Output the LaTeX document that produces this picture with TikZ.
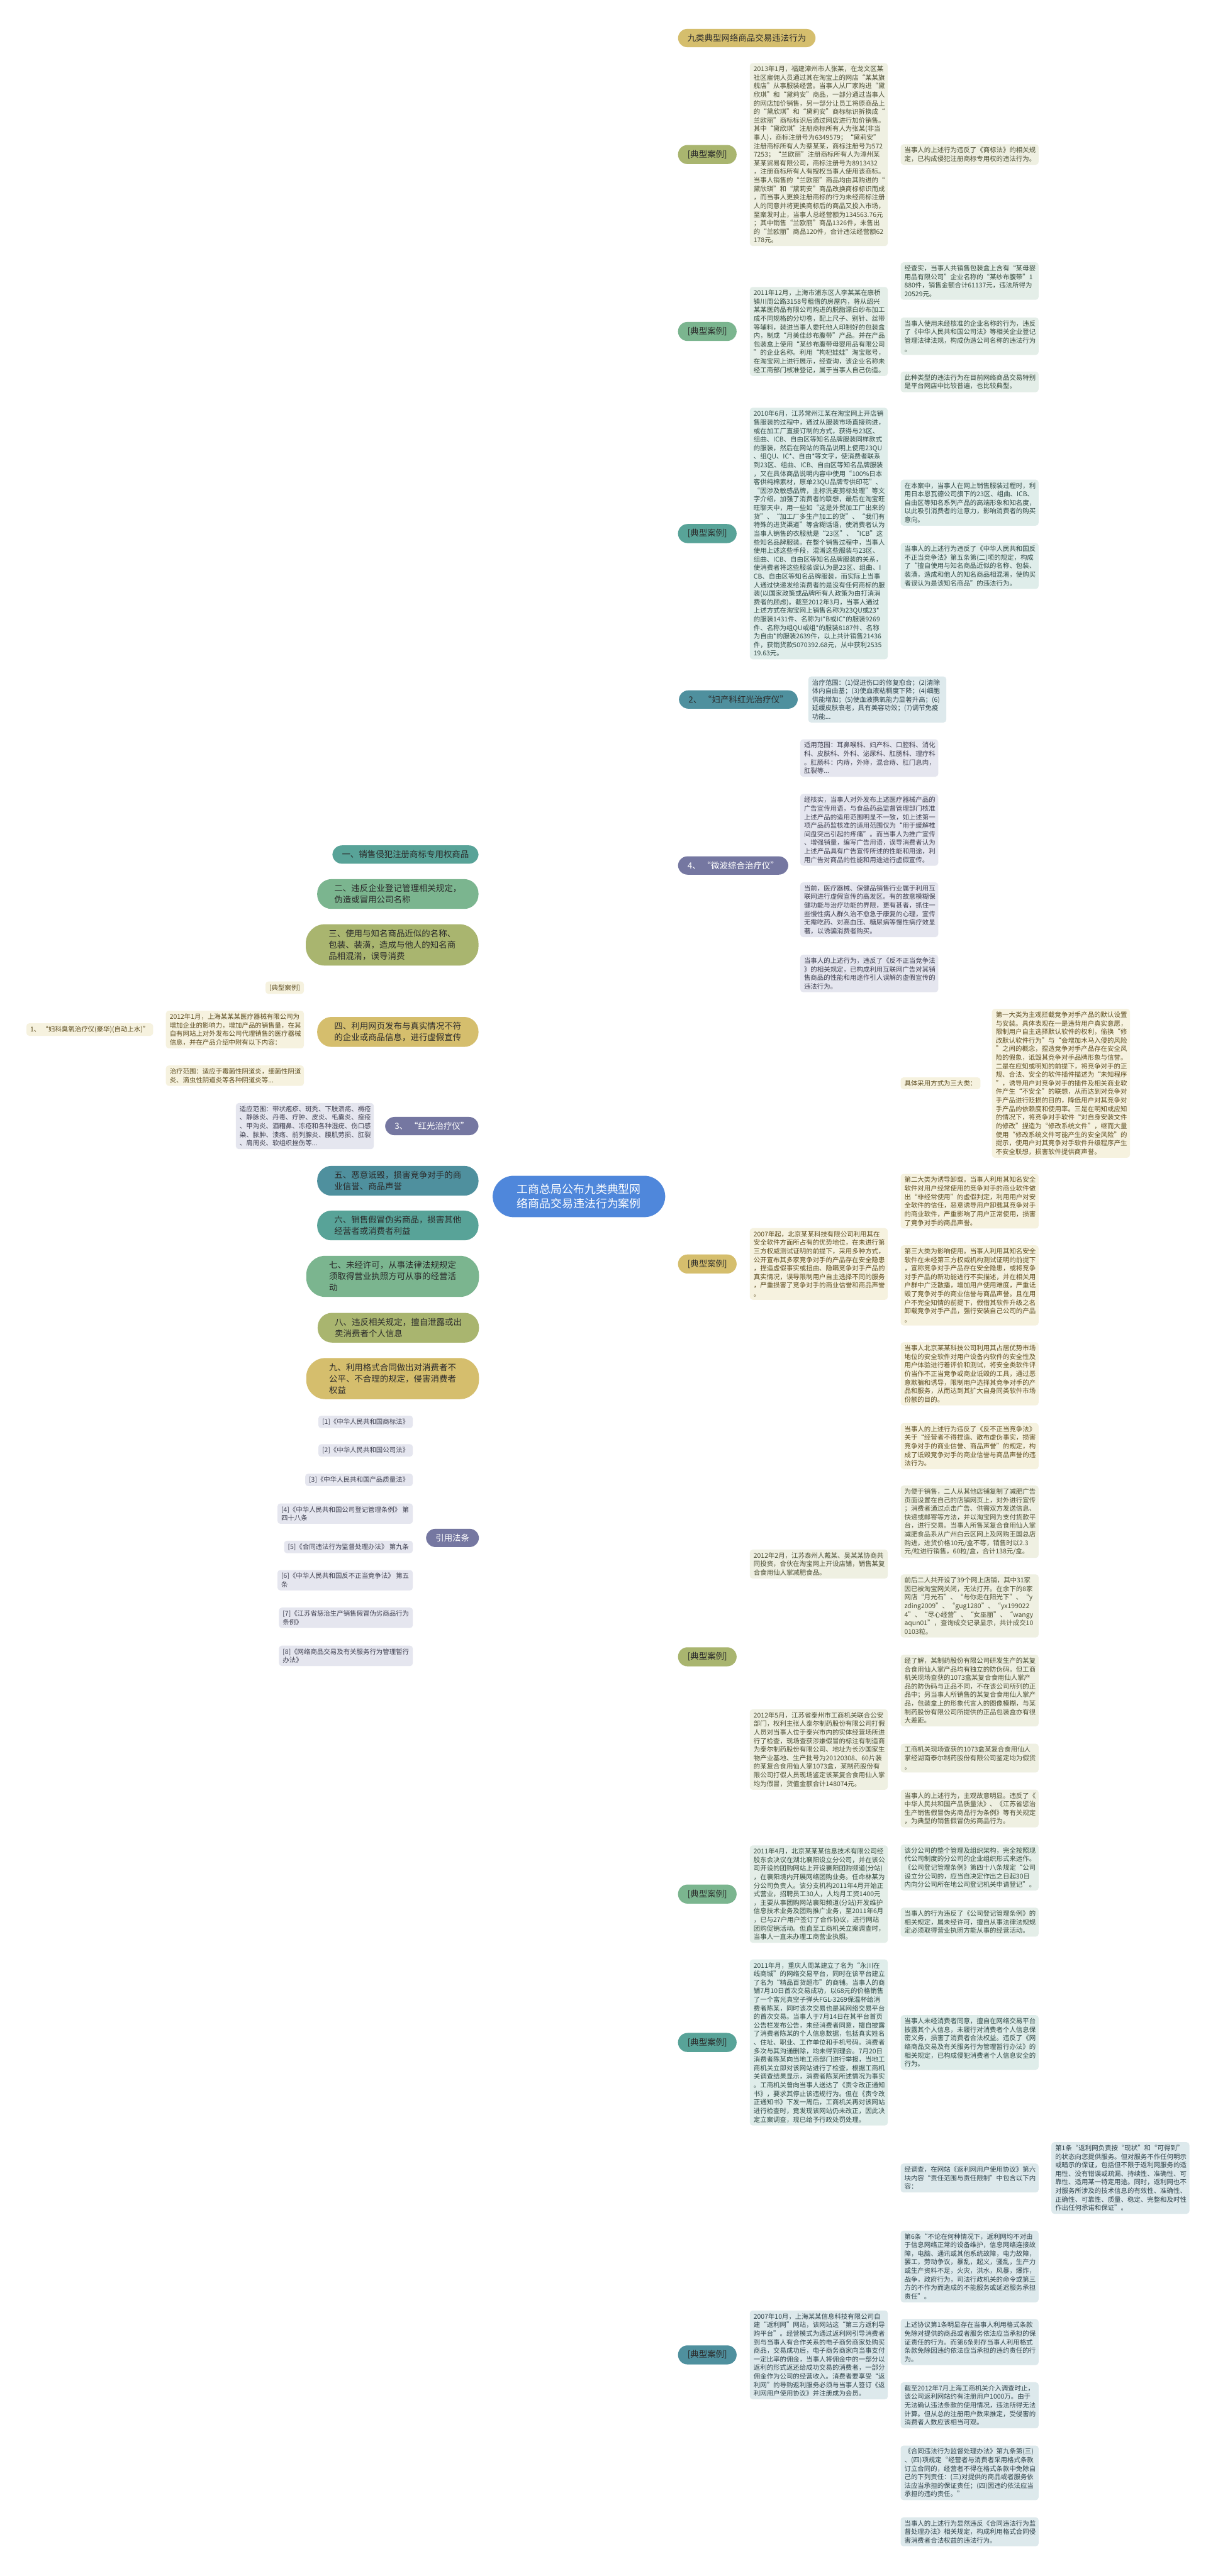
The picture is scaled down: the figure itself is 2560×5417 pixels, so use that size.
\documentclass[tikz,border=0pt]{standalone}
\usepackage{fontspec}
\setmainfont{Noto Sans CJK SC}
\usetikzlibrary{calc}
\pgfdeclarelayer{bg}
\pgfsetlayers{bg,main}
\definecolor{cGold}{HTML}{D5BE6D}
\definecolor{cOlive}{HTML}{A9B56F}
\definecolor{cGreen}{HTML}{7BB58F}
\definecolor{cTeal}{HTML}{58A398}
\definecolor{cBlue}{HTML}{4F909E}
\definecolor{cPurple}{HTML}{7577A1}
\definecolor{cCenter}{HTML}{4F87DB}
\definecolor{lGold}{HTML}{F6F2DF}
\definecolor{lOlive}{HTML}{EFF0E2}
\definecolor{lGreen}{HTML}{E4EEE8}
\definecolor{lTeal}{HTML}{DFEDEA}
\definecolor{lBlue}{HTML}{DDE9EC}
\definecolor{lPurple}{HTML}{E5E6EF}
\definecolor{dGold}{HTML}{5C4C1F}
\definecolor{dOlive}{HTML}{4A4D33}
\definecolor{dGreen}{HTML}{34493C}
\definecolor{dTeal}{HTML}{2F4845}
\definecolor{dBlue}{HTML}{2F434B}
\definecolor{dPurple}{HTML}{3F4050}
\definecolor{dText}{HTML}{2B2B2B}
\tikzset{
  l1/.style={line width=2.5pt},
  l2/.style={line width=2pt},
  R/.style={anchor=west},
  L/.style={anchor=east},
  t1/.style={font=\fontsize{17.8}{24}\selectfont, inner xsep=20pt, inner ysep=11pt, rounded corners=20pt, align=left, text=dText},
  t1b/.style={t1, inner xsep=36pt, rounded corners=30pt},
  t1c/.style={t1, inner xsep=48pt, rounded corners=40pt},
  ctr/.style={font=\fontsize{23.7}{31}\selectfont, inner xsep=51pt, inner ysep=17pt, rounded corners=44pt, align=center, fill=cCenter, text=white},
  sbx/.style={font=\fontsize{13.8}{18}\selectfont, inner xsep=8pt, inner ysep=6pt, rounded corners=6pt, align=left},
  bx/.style={sbx, text width=274pt},
  yb/.style={fill=lGold, text=dGold},
  ob/.style={fill=lOlive, text=dOlive},
  gb/.style={fill=lGreen, text=dGreen},
  tb/.style={fill=lTeal, text=dTeal},
  bb/.style={fill=lBlue, text=dBlue},
  pb/.style={fill=lPurple, text=dPurple},
}
\newcommand\conR[3]{\draw[l1,#2] (#1.west) .. controls +(-146,0) and +(0,{0.65*(#3-2516)}) .. (cc.center);}
\newcommand\conL[3]{\draw[l1,#2] (#1.east) .. controls +(148,0) and +(0,{0.65*(#3-2516)}) .. (cc.center);}
\newcommand\brkR[4]{\draw[l2,#3,rounded corners=8pt] (#1.east) -- ++(#4,0) |- (#2.west);}
\newcommand\brkL[4]{\draw[l2,#3,rounded corners=8pt] (#1.west) -- ++(-#4,0) |- (#2.east);}
\newcommand\lnk[3]{\draw[l2,#3] (#1.east) -- (#2.west);}
\begin{document}
\begin{tikzpicture}[x=1pt,y=-1pt]
\useasboundingbox[fill=white] (0,0) rectangle (2560,5417);

% center
\node[ctr] (cc) at (1217,2516) {工商总局公布九类典型网\\络商品交易违法行为案例};

% ---------------- left level 1
\node[t1, L, fill=cTeal] (L1) at (1006,1797) {一、销售侵犯注册商标专用权商品};
\node[t1b, L, fill=cGreen] (L2) at (1006,1880) {二、违反企业登记管理相关规定，\\伪造或冒用公司名称};
\node[t1c, L, fill=cOlive] (L3) at (1006,1987) {三、使用与知名商品近似的名称、\\包装、装潢，造成与他人的知名商\\品相混淆，误导消费};
\node[t1b, L, fill=cGold] (L4) at (1006,2170) {四、利用网页发布与真实情况不符\\的企业或商品信息，进行虚假宣传};
\node[t1, L, fill=cPurple, text=white] (L3b) at (1006,2368) {3、 “红光治疗仪”};
\node[t1b, L, fill=cBlue] (L5) at (1006,2483) {五、恶意诋毁，损害竞争对手的商\\业信誉、商品声誉};
\node[t1b, L, fill=cTeal] (L6) at (1006,2577) {六、销售假冒伪劣商品，损害其他\\经营者或消费者利益};
\node[t1c, L, fill=cGreen] (L7) at (1007,2684) {七、未经许可，从事法律法规规定\\须取得营业执照方可从事的经营活\\动};
\node[t1b, L, fill=cOlive] (L8) at (1007,2792) {八、违反相关规定，擅自泄露或出\\卖消费者个人信息};
\node[t1c, L, fill=cGold] (L9) at (1007,2899) {九、利用格式合同做出对消费者不\\公平、不合理的规定，侵害消费者\\权益};
\node[t1, L, fill=cPurple, text=white] (LR) at (1007,3234) {引用法条};

% left children of 四
\node[sbx, L, yb] (q0) at (639,2077) {[典型案例]};
\node[bx, L, yb] (q1) at (639,2165) {2012年1月，上海某某某医疗器械有限公司为\\增加企业的影响力，增加产品的销售量，在其\\自有网站上对外发布公司代理销售的医疗器械\\信息，并在产品介绍中附有以下内容：};
\node[sbx, L, yb] (q1x) at (322,2165) {1、 “妇科臭氧治疗仪(豪华)(自动上水)”};
\node[bx, L, yb] (q2) at (639,2262) {治疗范围：适应于霉菌性阴道炎，细菌性阴道\\炎、滴虫性阴道炎等各种阴道炎等...};
% child of 3、
\node[bx, L, pb] (r3a) at (786,2368) {适应范围：带状疱疹、斑秃、下肢溃疡、褥疮\\、静脉炎、丹毒、疔肿、皮炎、毛囊炎、痤疮\\、甲沟炎、酒糟鼻、冻疮和各种湿疣、伤口感\\染、脓肿、溃疡、前列腺炎、腰肌劳损、肛裂\\、肩周炎、软组织挫伤等...};
% 引用法条
\node[sbx, L, pb] (f1) at (868,2990) {[1]《中华人民共和国商标法》};
\node[sbx, L, pb] (f2) at (868,3050) {[2]《中华人民共和国公司法》};
\node[sbx, L, pb] (f3) at (868,3112) {[3]《中华人民共和国产品质量法》};
\node[sbx, L, pb] (f4) at (868,3183) {[4]《中华人民共和国公司登记管理条例》 第\\四十八条};
\node[sbx, L, pb] (f5) at (868,3253) {[5]《合同违法行为监督处理办法》 第九条};
\node[sbx, L, pb] (f6) at (868,3323) {[6]《中华人民共和国反不正当竞争法》 第五\\条};
\node[sbx, L, pb] (f7) at (868,3402) {[7]《江苏省惩治生产销售假冒伪劣商品行为\\条例》};
\node[sbx, L, pb] (f8) at (868,3482) {[8]《网络商品交易及有关服务行为管理暂行\\办法》};

% ---------------- right level 1
\node[t1, R, fill=cGold] (ti) at (1425,80) {九类典型网络商品交易违法行为};
\node[t1, R, fill=cOlive] (k1) at (1425,325) {[典型案例]};
\node[t1, R, fill=cGreen] (k2) at (1425,697) {[典型案例]};
\node[t1, R, fill=cTeal] (k3) at (1425,1122) {[典型案例]};
\node[t1, R, fill=cBlue] (n2) at (1427,1471) {2、 “妇产科红光治疗仪”};
\node[t1, R, fill=cPurple, text=white] (n4) at (1425,1820) {4、 “微波综合治疗仪”};
\node[t1, R, fill=cGold] (k5) at (1425,2658) {[典型案例]};
\node[t1, R, fill=cOlive] (k6) at (1425,3484) {[典型案例]};
\node[t1, R, fill=cGreen] (k7) at (1425,3983) {[典型案例]};
\node[t1, R, fill=cTeal] (k8) at (1425,4295) {[典型案例]};
\node[t1, R, fill=cBlue] (k9) at (1425,4952) {[典型案例]};

% case 1
\node[bx, R, ob] (b1) at (1576,325) {2013年1月，福建漳州市人张某，在龙文区某\\社区雇佣人员通过其在淘宝上的网店“某某旗\\舰店”从事服装经营。当事人从厂家购进“黛\\欣琪”和“黛莉安”商品，一部分通过当事人\\的网店加价销售，另一部分让员工将原商品上\\的“黛欣琪”和“黛莉安”商标标识拆换成“\\兰欧丽”商标标识后通过网店进行加价销售。\\其中“黛欣琪”注册商标所有人为张某(非当\\事人)，商标注册号为6349579；“黛莉安”\\注册商标所有人为蔡某某，商标注册号为572\\7253；“兰欧丽”注册商标所有人为漳州某\\某某贸易有限公司，商标注册号为8913432\\，注册商标所有人有授权当事人使用该商标。\\当事人销售的“兰欧丽”商品均由其购进的“\\黛欣琪”和“黛莉安”商品改换商标标识而成\\，而当事人更换注册商标的行为未经商标注册\\人的同意并将更换商标后的商品又投入市场，\\至案发时止，当事人总经营额为134563.76元\\；其中销售“兰欧丽”商品1326件，未售出\\的“兰欧丽”商品120件，合计违法经营额62\\178元。};
\node[bx, R, ob] (b1a) at (1893,325) {当事人的上述行为违反了《商标法》的相关规\\定，已构成侵犯注册商标专用权的违法行为。};

% case 2
\node[bx, R, gb] (b2) at (1576,697) {2011年12月，上海市浦东区人李某某在康桥\\镇川周公路3158号租借的房屋内，将从绍兴\\某某医药品有限公司购进的脱脂漂白纱布加工\\成不同规格的分切卷，配上尺子、别针、丝带\\等辅料，装进当事人委托他人印制好的包装盒\\内，制成“月美佳纱布腹带”产品。并在产品\\包装盒上使用“某纱布腹带母婴用品有限公司\\”的企业名称。利用“枸杞娃娃”淘宝账号，\\在淘宝网上进行展示，经查询，该企业名称未\\经工商部门核准登记，属于当事人自己伪造。};
\node[bx, R, gb] (b2a) at (1893,591) {经查实，当事人共销售包装盒上含有“某母婴\\用品有限公司”企业名称的“某纱布腹带”1\\880件，销售金额合计61137元，违法所得为\\20529元。};
\node[bx, R, gb] (b2b) at (1893,707) {当事人使用未经核准的企业名称的行为，违反\\了《中华人民共和国公司法》等相关企业登记\\管理法律法规，构成伪造公司名称的违法行为\\。};
\node[bx, R, gb] (b2c) at (1893,803) {此种类型的违法行为在目前网络商品交易特别\\是平台网店中比较普遍，也比较典型。};

% case 3
\node[bx, R, tb] (b3) at (1576,1122) {2010年6月，江苏常州江某在淘宝网上开店销\\售服装的过程中，通过从服装市场直接购进，\\或在加工厂直接订制的方式，获得与23区、\\组曲、ICB、自由区等知名品牌服装同样款式\\的服装，然后在网站的商品说明上使用23QU\\、组QU、IC*、自由*等文字，使消费者联系\\到23区、组曲、ICB、自由区等知名品牌服装\\，又在具体商品说明内容中使用“100\%日本\\客供纯棉素材，原单23QU品牌专供印花”、\\“因涉及敏感品牌，主标洗麦剪标处理”等文\\字介绍，加强了消费者的联想，最后在淘宝旺\\旺聊天中，用一些如“这是外贸加工厂出来的\\货”、“加工厂多生产加工的货”、“我们有\\特殊的进货渠道”等含糊话语，使消费者认为\\当事人销售的衣服就是“23区”、“ICB”这\\些知名品牌服装。在整个销售过程中，当事人\\使用上述这些手段，混淆这些服装与23区、\\组曲、ICB、自由区等知名品牌服装的关系，\\使消费者将这些服装误认为是23区、组曲、I\\CB、自由区等知名品牌服装，而实际上当事\\人通过快递发给消费者的是没有任何商标的服\\装(以国家政策或品牌所有人政策为由打消消\\费者的顾虑)。截至2012年3月，当事人通过\\上述方式在淘宝网上销售名称为23QU或23*\\的服装1431件、名称为I*B或IC*的服装9269\\件、名称为组QU或组*的服装8187件、名称\\为自由*的服装2639件，以上共计销售21436\\件，获销货款5070392.68元，从中获利2535\\19.63元。};
\node[bx, R, tb] (b3a) at (1893,1057) {在本案中，当事人在网上销售服装过程时，利\\用日本恩瓦德公司旗下的23区、组曲、ICB、\\自由区等知名系列产品的高端形象和知名度，\\以此吸引消费者的注意力，影响消费者的购买\\意向。};
\node[bx, R, tb] (b3b) at (1893,1190) {当事人的上述行为违反了《中华人民共和国反\\不正当竞争法》第五条第(二)项的规定，构成\\了“擅自使用与知名商品近似的名称、包装、\\装潢，造成和他人的知名商品相混淆，使购买\\者误认为是该知名商品”的违法行为。};

% 2、
\node[bx, R, bb] (n2a) at (1699,1471) {治疗范围：(1)促进伤口的修复愈合；(2)清除\\体内自由基；(3)使血液粘稠度下降；(4)细胞\\供能增加；(5)使血液携氧能力显著升高；(6)\\延缓皮肤衰老，具有美容功效；(7)调节免疫\\功能...};

% 4、
\node[bx, R, pb] (n4a) at (1682,1594) {适用范围：耳鼻喉科、妇产科、口腔科、消化\\科、皮肤科、外科、泌尿科、肛肠科、理疗科\\。肛肠科：内痔，外痔，混合痔、肛门息肉，\\肛裂等...};
\node[bx, R, pb] (n4b) at (1682,1745) {经核实，当事人对外发布上述医疗器械产品的\\广告宣传用语，与食品药品监督管理部门核准\\上述产品的适用范围明显不一致，如上述第一\\项产品药监核准的适用范围仅为“用于缓解椎\\间盘突出引起的疼痛”。而当事人为推广宣传\\、增强销量，编写广告用语，误导消费者认为\\上述产品具有广告宣传所述的性能和用途，利\\用广告对商品的性能和用途进行虚假宣传。};
\node[bx, R, pb] (n4c) at (1682,1913) {当前，医疗器械、保健品销售行业属于利用互\\联网进行虚假宣传的高发区。有的故意模糊保\\健功能与治疗功能的界限，更有甚者，抓住一\\些慢性病人群久治不愈急于康复的心理，宣传\\无需吃药、对高血压、糖尿病等慢性病疗效显\\著，以诱骗消费者购买。};
\node[bx, R, pb] (n4d) at (1682,2047) {当事人的上述行为，违反了《反不正当竞争法\\》的相关规定，已构成利用互联网广告对其销\\售商品的性能和用途作引人误解的虚假宣传的\\违法行为。};

% case 5
\node[bx, R, yb] (b5) at (1576,2658) {2007年起，北京某某科技有限公司利用其在\\安全软件方面所占有的优势地位，在未进行第\\三方权威测试证明的前提下，采用多种方式，\\公开宣布其多家竞争对手的产品存在安全隐患\\，捏造虚假事实或扭曲、隐瞒竞争对手产品的\\真实情况，误导限制用户自主选择不同的服务\\，严重损害了竞争对手的商业信誉和商品声誉\\。};
\node[sbx, R, yb] (b5a) at (1893,2278) {具体采用方式为三大类：};
\node[bx, R, yb] (b5x) at (2085,2278) {第一大类为主观拦截竞争对手产品的默认设置\\与安装。具体表现在一是违背用户真实意愿，\\限制用户自主选择默认软件的权利，偷换“修\\改默认软件行为”与“会增加木马入侵的风险\\”之间的概念，捏造竞争对手产品存在安全风\\险的假象，诋毁其竞争对手品牌形象与信誉。\\二是在应知或明知的前提下，将竞争对手的正\\规、合法、安全的软件插件描述为“未知程序\\”，诱导用户对竞争对手的插件及相关商业软\\件产生“不安全”的联想，从而达到对竞争对\\手产品进行贬损的目的，降低用户对其竞争对\\手产品的依赖度和使用率。三是在明知或应知\\的情况下，将竞争对手软件“对自身安装文件\\的修改”捏造为“修改系统文件”，继而大量\\使用“修改系统文件可能产生的安全风险”的\\提示，使用户对其竞争对手软件升级程序产生\\不安全联想，损害软件提供商声誉。};
\node[bx, R, yb] (b5b) at (1893,2526) {第二大类为诱导卸载。当事人利用其知名安全\\软件对用户经常使用的竞争对手的商业软件做\\出“非经常使用”的虚假判定，利用用户对安\\全软件的信任，恶意诱导用户卸载其竞争对手\\的商业软件，严重影响了用户正常使用，损害\\了竞争对手的商品声誉。};
\node[bx, R, yb] (b5c) at (1893,2703) {第三大类为影响使用。当事人利用其知名安全\\软件在未经第三方权威机构测试证明的前提下\\，宣称竞争对手产品存在安全隐患，或将竞争\\对手产品的新功能进行不实描述，并在相关用\\户群中广泛散播，增加用户使用难度，严重诋\\毁了竞争对手的商业信誉与商品声誉。且在用\\户不完全知情的前提下，假借其软件升级之名\\卸载竞争对手产品，强行安装自己公司的产品\\。};
\node[bx, R, yb] (b5d) at (1893,2889) {当事人北京某某科技公司利用其占居优势市场\\地位的安全软件对用户设备内软件的安全性及\\用户体验进行着评价和测试，将安全类软件评\\价当作不正当竞争或商业诋毁的工具，通过恶\\意欺骗和诱导，限制用户选择其竞争对手的产\\品和服务，从而达到其扩大自身同类软件市场\\份额的目的。};
\node[bx, R, yb] (b5e) at (1893,3041) {当事人的上述行为违反了《反不正当竞争法》\\关于“经营者不得捏造、散布虚伪事实，损害\\竞争对手的商业信誉、商品声誉”的规定，构\\成了诋毁竞争对手的商业信誉与商品声誉的违\\法行为。};

% case 6
\node[bx, R, ob] (b6) at (1576,3289) {2012年2月，江苏泰州人戴某、吴某某协商共\\同投资，合伙在淘宝网上开设店铺，销售某复\\合食用仙人掌减肥食品。};
\node[bx, R, ob] (b6p) at (1576,3679) {2012年5月，江苏省泰州市工商机关联合公安\\部门，权利主张人泰尔制药股份有限公司打假\\人员对当事人位于泰兴市内的实体经营场所进\\行了检查，现场查获涉嫌假冒的标注有制造商\\为泰尔制药股份有限公司、地址为长沙国家生\\物产业基地、生产批号为20120308、60片装\\的某复合食用仙人掌1073盒，某制药股份有\\限公司打假人员现场鉴定该某复合食用仙人掌\\均为假冒，货值金额合计148074元。};
\node[bx, R, ob] (b6a) at (1893,3200) {为便于销售，二人从其他店铺复制了减肥广告\\页面设置在自己的店铺网页上，对外进行宣传\\；消费者通过点击广告、供需双方发送信息、\\快递或邮寄等方法，并以淘宝网为支付货款平\\台，进行交易。当事人所售某复合食用仙人掌\\减肥食品系从广州白云区网上及网购王国总店\\购进，进货价格10元/盒不等，销售时以2.3\\元/粒进行销售，60粒/盒，合计138元/盒。};
\node[bx, R, ob] (b6b) at (1893,3377) {前后二人共开设了39个网上店铺，其中31家\\因已被淘宝网关闭，无法打开。在余下的8家\\网店“月光石”、“与你走在阳光下”、“y\\zding2009”、“gug1280”、“yx199022\\4”、“尽心经营”、“女巫丽”、“wangy\\aqun01”，查询成交记录显示，共计成交10\\0103粒。};
\node[bx, R, ob] (b6c) at (1893,3555) {经了解，某制药股份有限公司研发生产的某复\\合食用仙人掌产品均有独立的防伪码。但工商\\机关现场查获的1073盒某复合食用仙人掌产\\品的防伪码与正品不同，不在该公司所列的正\\品中；另当事人所销售的某复合食用仙人掌产\\品，包装盒上的形象代言人的图像模糊，与某\\制药股份有限公司所提供的正品包装盒亦有很\\大差距。};
\node[bx, R, ob] (b6d) at (1893,3697) {工商机关现场查获的1073盒某复合食用仙人\\掌经湖南泰尔制药股份有限公司鉴定均为假货\\。};
\node[bx, R, ob] (b6e) at (1893,3803) {当事人的上述行为，主观故意明显。违反了《\\中华人民共和国产品质量法》、《江苏省惩治\\生产销售假冒伪劣商品行为条例》等有关规定\\，为典型的销售假冒伪劣商品行为。};

% case 7
\node[bx, R, gb] (b7) at (1576,3983) {2011年4月，北京某某某信息技术有限公司经\\股东会决议在湖北襄阳设立分公司，并在该公\\司开设的团购网站上开设襄阳团购频道(分站)\\，在襄阳境内开展网络团购业务。任命林某为\\分公司负责人。该分支机构2011年4月开始正\\式营业，招聘员工30人，人均月工资1400元\\，主要从事团购网站襄阳频道(分站)开发维护\\信息技术业务及团购推广业务，至2011年6月\\，已与27户用户签订了合作协议，进行网站\\团购促销活动。但直至工商机关立案调查时，\\当事人一直未办理工商营业执照。};
\node[bx, R, gb] (b7a) at (1893,3927) {该分公司的整个管理及组织架构，完全按照现\\代公司制度的分公司的企业组织形式来运作。\\《公司登记管理条例》第四十八条规定“公司\\设立分公司的，应当自决定作出之日起30日\\内向分公司所在地公司登记机关申请登记”。};
\node[bx, R, gb] (b7b) at (1893,4042) {当事人的行为违反了《公司登记管理条例》的\\相关规定，属未经许可，擅自从事法律法规规\\定必须取得营业执照方能从事的经营活动。};

% case 8
\node[bx, R, tb] (b8) at (1576,4295) {2011年月，重庆人周某建立了名为“永川在\\线商城”的网络交易平台，同时在该平台建立\\了名为“精品百货超市”的商铺。当事人的商\\铺7月10日首次交易成功，以68元的价格销售\\了一个富光真空子弹头FGL-3269保温杯给消\\费者陈某，同时该次交易也是其网络交易平台\\的首次交易。当事人于7月14日在其平台首页\\公告栏发布公告，未经消费者同意，擅自披露\\了消费者陈某的个人信息数据，包括真实姓名\\、住址、职业、工作单位和手机号码。消费者\\多次与其沟通删除，均未得到理会。7月20日\\消费者陈某向当地工商部门进行举报，当地工\\商机关立即对该网站进行了检查，根据工商机\\关调查结果显示，消费者陈某所述情况为事实\\。工商机关曾向当事人送达了《责令改正通知\\书》，要求其停止该违规行为。但在《责令改\\正通知书》下发一周后，工商机关再对该网站\\进行检查时，竟发现该网站仍未改正，因此决\\定立案调查，现已给予行政处罚处理。};
\node[bx, R, tb] (b8a) at (1893,4295) {当事人未经消费者同意，擅自在网络交易平台\\披露其个人信息，未履行对消费者个人信息保\\密义务，损害了消费者合法权益。违反了《网\\络商品交易及有关服务行为管理暂行办法》的\\相关规定，已构成侵犯消费者个人信息安全的\\行为。};

% case 9
\node[bx, R, bb] (b9) at (1576,4952) {2007年10月，上海某某信息科技有限公司自\\建“返利网”网站，该网站这“第三方返利导\\购平台”。经营模式为通过返利网引导消费者\\到与当事人有合作关系的电子商务商家处购买\\商品，交易成功后，电子商务商家向当事支付\\一定比率的佣金，当事人将佣金中的一部分以\\返利的形式返还给成功交易的消费者，一部分\\佣金作为公司的经营收入。消费者要享受“返\\利网”的导购返利服务必须与当事人签订《返\\利网用户使用协议》并注册成为会员。};
\node[bx, R, bb] (b9a) at (1893,4580) {经调查，在网站《返利网用户使用协议》第六\\块内容“责任范围与责任限制”中包含以下内\\容：};
\node[bx, R, bb] (b9x) at (2210,4580) {第1条“返利网负责按“现状”和“可得到”\\的状态向您提供服务。但对服务不作任何明示\\或暗示的保证，包括但不限于返利网服务的适\\用性、没有错误或疏漏、持续性、准确性、可\\靠性、适用某一特定用途。同时，返利网也不\\对服务所涉及的技术信息的有效性、准确性、\\正确性、可靠性、质量、稳定、完整和及时性\\作出任何承诺和保证”。};
\node[bx, R, bb] (b9b) at (1893,4766) {第6条“不论在何种情况下，返利网均不对由\\于信息网络正常的设备维护，信息网络连接故\\障，电脑、通讯或其他系统故障，电力故障，\\罢工，劳动争议，暴乱，起义，骚乱，生产力\\或生产资料不足，火灾，洪水，风暴，爆炸，\\战争，政府行为，司法行政机关的命令或第三\\方的不作为而造成的不能服务或延迟服务承担\\责任”。};
\node[bx, R, bb] (b9c) at (1893,4925) {上述协议第1条明显存在当事人利用格式条款\\免除对提供的商品或者服务依法应当承担的保\\证责任的行为。而第6条则存当事人利用格式\\条款免除因违约依法应当承担的违约责任的行\\为。};
\node[bx, R, bb] (b9d) at (1893,5058) {截至2012年7月上海工商机关介入调查时止，\\该公司返利网站约有注册用户1000万。由于\\无法确认违法条款的使用情况，违法所得无法\\计算。但从总的注册用户数来推定，受侵害的\\消费者人数应该相当可观。};
\node[bx, R, bb] (b9e) at (1893,5200) {《合同违法行为监督处理办法》第九条第(三)\\、(四)项规定“经营者与消费者采用格式条款\\订立合同的，经营者不得在格式条款中免除自\\己的下列责任：(三)对提供的商品或者服务依\\法应当承担的保证责任；(四)因违约依法应当\\承担的违约责任。”};
\node[bx, R, bb] (b9f) at (1893,5324) {当事人的上述行为显然违反《合同违法行为监\\督处理办法》相关规定，构成利用格式合同侵\\害消费者合法权益的违法行为。};

% ---------------- connectors
\begin{pgfonlayer}{bg}
\conR{ti}{cGold}{80}
\conR{k1}{cOlive}{325}
\conR{k2}{cGreen}{697}
\conR{k3}{cTeal}{1122}
\conR{n2}{cBlue}{1471}
\conR{n4}{cPurple}{1820}
\conR{k5}{cGold}{2658}
\conR{k6}{cOlive}{3484}
\conR{k7}{cGreen}{3983}
\conR{k8}{cTeal}{4295}
\conR{k9}{cBlue}{4952}
\conL{L1}{cTeal}{1797}
\conL{L2}{cGreen}{1880}
\conL{L3}{cOlive}{1987}
\conL{L4}{cGold}{2170}
\conL{L3b}{cPurple}{2368}
\conL{L5}{cBlue}{2483}
\conL{L6}{cTeal}{2577}
\conL{L7}{cGreen}{2684}
\conL{L8}{cOlive}{2792}
\conL{L9}{cGold}{2899}
\conL{LR}{cPurple}{3234}
% left
\brkL{L4}{q0}{cGold}{16}
\brkL{L4}{q1}{cGold}{16}
\brkL{L4}{q2}{cGold}{16}
\draw[l2,cGold] (q1.west) -- (q1x.east);
\draw[l2,cPurple] (L3b.west) -- (r3a.east);
\foreach \f in {f1,f2,f3,f4,f5,f6,f7,f8} {\brkL{LR}{\f}{cPurple}{17}}
% right
\lnk{k1}{b1}{cOlive}
\lnk{b1}{b1a}{cOlive}
\lnk{k2}{b2}{cGreen}
\foreach \c in {b2a,b2b,b2c} {\brkR{b2}{\c}{cGreen}{12}}
\lnk{k3}{b3}{cTeal}
\foreach \c in {b3a,b3b} {\brkR{b3}{\c}{cTeal}{12}}
\lnk{n2}{n2a}{cBlue}
\foreach \c in {n4a,n4b,n4c,n4d} {\brkR{n4}{\c}{cPurple}{14}}
\lnk{k5}{b5}{cGold}
\foreach \c in {b5a,b5b,b5c,b5d,b5e} {\brkR{b5}{\c}{cGold}{12}}
\lnk{b5a}{b5x}{cGold}
\brkR{k6}{b6}{cOlive}{13}
\brkR{k6}{b6p}{cOlive}{13}
\foreach \c in {b6a,b6b} {\brkR{b6}{\c}{cOlive}{12}}
\foreach \c in {b6c,b6d,b6e} {\brkR{b6p}{\c}{cOlive}{12}}
\lnk{k7}{b7}{cGreen}
\foreach \c in {b7a,b7b} {\brkR{b7}{\c}{cGreen}{12}}
\lnk{k8}{b8}{cTeal}
\lnk{b8}{b8a}{cTeal}
\lnk{k9}{b9}{cBlue}
\foreach \c in {b9a,b9b,b9c,b9d,b9e,b9f} {\brkR{b9}{\c}{cBlue}{12}}
\lnk{b9a}{b9x}{cBlue}
\end{pgfonlayer}
\end{tikzpicture}
\end{document}
